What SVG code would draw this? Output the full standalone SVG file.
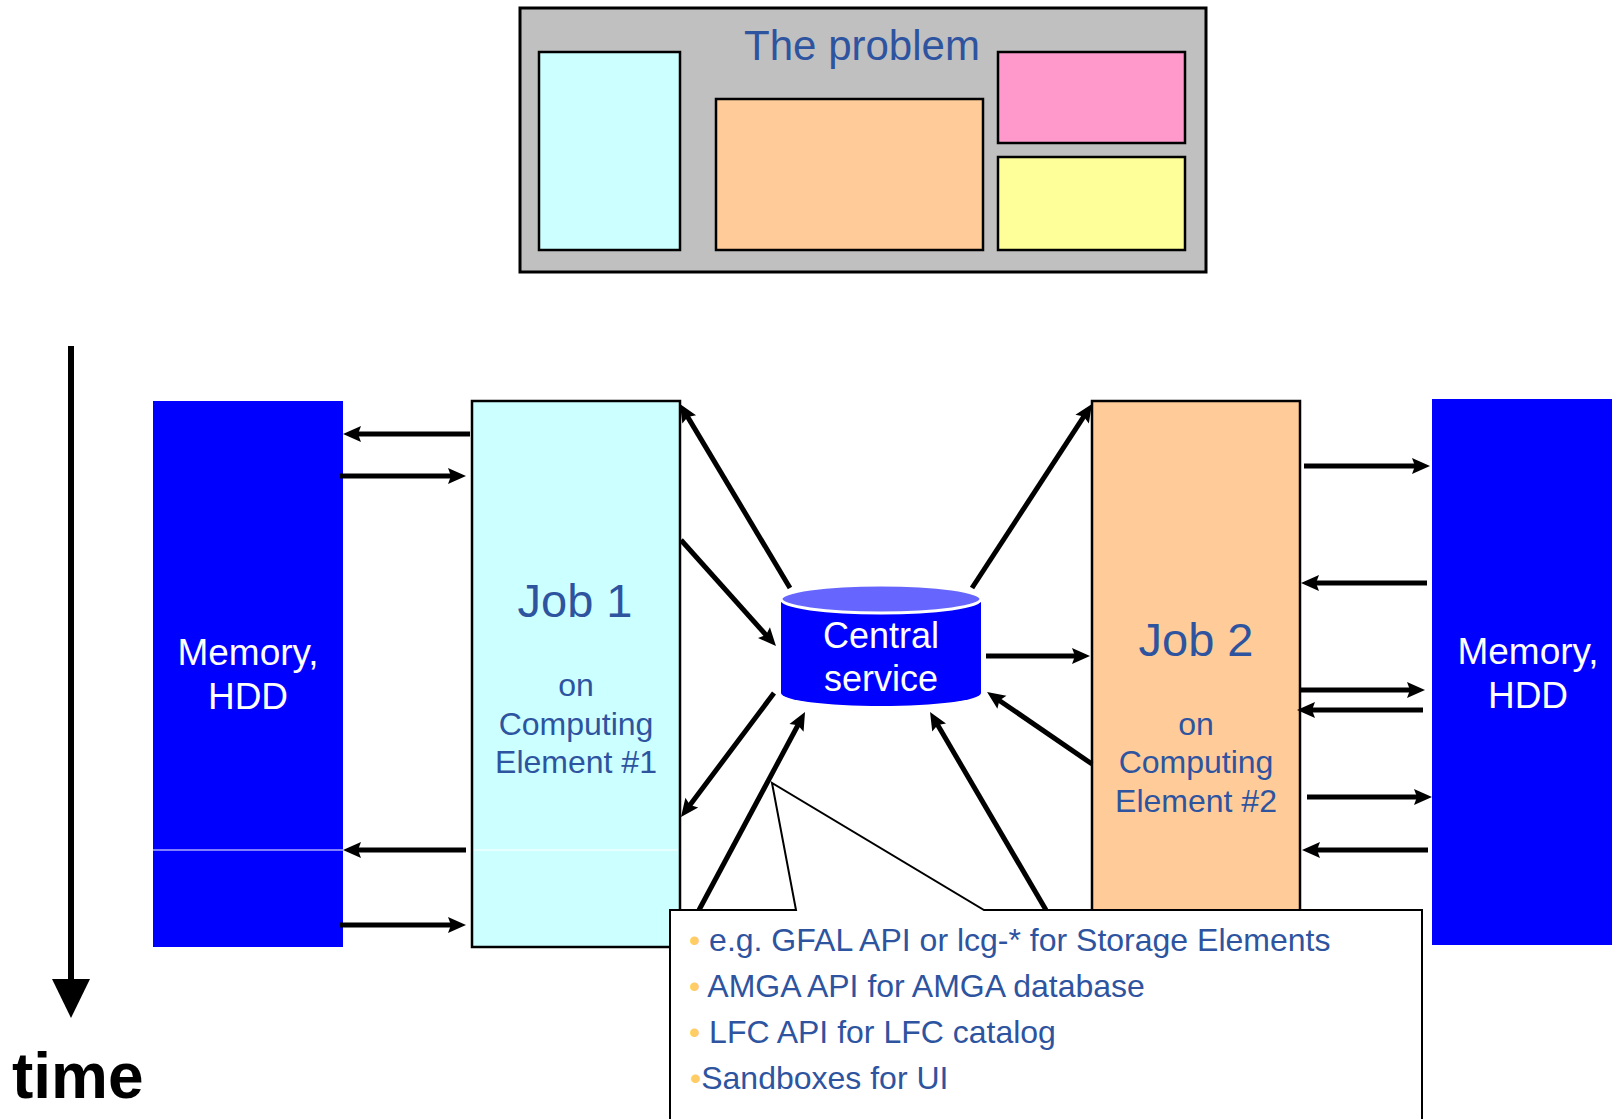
<svg xmlns="http://www.w3.org/2000/svg" width="1612" height="1119" viewBox="0 0 1612 1119">
<style>
.t{font-family:"Liberation Sans",Arial,sans-serif;}
.blue{fill:#2E54A0;}
.wh{fill:#FFFFFF;}
.box{stroke:#000;stroke-width:2.5;}
.arr{stroke:#000;stroke-width:5;fill:none;marker-end:url(#ah);}
.bul{fill:#FFCC66;}
</style>
<defs>
<marker id="ah" markerUnits="userSpaceOnUse" markerWidth="20" markerHeight="18" refX="8" refY="8" orient="auto" overflow="visible">
<path d="M0,0 L18,8 L0,16 L3,8 Z" fill="#000"/>
</marker>
</defs>
<rect width="1612" height="1119" fill="#fff"/>

<g id="problem">
<rect x="520" y="8" width="686" height="264" fill="#C0C0C0" stroke="#000" stroke-width="3"/>
<rect x="539" y="52" width="141" height="198" fill="#CCFFFF" class="box"/>
<rect x="716" y="99" width="267" height="151" fill="#FFCC99" class="box"/>
<rect x="998" y="52" width="187" height="91" fill="#FF99CC" class="box"/>
<rect x="998" y="157" width="187" height="93" fill="#FFFF99" class="box"/>
<text x="862" y="60" class="t blue" font-size="42" text-anchor="middle">The problem</text>
</g>

<g id="time">
<line x1="71" y1="346" x2="71" y2="982" stroke="#000" stroke-width="6"/>
<polygon points="52,979 90,979 71,1018" fill="#000"/>
<text x="12" y="1098" class="t" font-size="64" font-weight="bold" fill="#000">time</text>
</g>

<g id="memory1">
<rect x="153" y="401" width="190" height="546" fill="#0000FF"/>
<line x1="153" y1="850" x2="343" y2="850" stroke="#fff" stroke-width="1"/>
<text class="t wh" font-size="37" text-anchor="middle"><tspan x="248" y="665">Memory,</tspan><tspan x="248" y="709">HDD</tspan></text>
</g>

<g id="job1">
<rect x="472" y="401" width="208" height="546" fill="#CCFFFF" class="box"/>
<line x1="474" y1="850" x2="678" y2="850" stroke="#fff" stroke-width="1"/>
<text x="575" y="617" class="t blue" font-size="47" text-anchor="middle">Job 1</text>
<text class="t blue" font-size="32" text-anchor="middle"><tspan x="576" y="696">on</tspan><tspan x="576" y="735">Computing</tspan><tspan x="576" y="773">Element #1</tspan></text>
</g>

<g id="job2">
<rect x="1092" y="401" width="208" height="540" fill="#FFCC99" class="box"/>
<text x="1196" y="656" class="t blue" font-size="47" text-anchor="middle">Job 2</text>
<text class="t blue" font-size="32" text-anchor="middle"><tspan x="1196" y="735">on</tspan><tspan x="1196" y="773">Computing</tspan><tspan x="1196" y="812">Element #2</tspan></text>
</g>

<g id="memory2">
<rect x="1432" y="399" width="180" height="546" fill="#0000FF"/>
<text class="t wh" font-size="37" text-anchor="middle"><tspan x="1528" y="664">Memory,</tspan><tspan x="1528" y="708">HDD</tspan></text>
</g>

<g id="central">
<path d="M781,600 L781,693 A100,13 0 0 0 981,693 L981,600 Z" fill="#0000FF"/>
<ellipse cx="881" cy="599" rx="100" ry="14" fill="#6666FF" stroke="#fff" stroke-width="3"/>
<text class="t wh" font-size="36" text-anchor="middle"><tspan x="881" y="648">Central</tspan><tspan x="881" y="691">service</tspan></text>
</g>

<g id="connectors">
<line class="arr" x1="470" y1="434" x2="353" y2="434"/>
<line class="arr" x1="340" y1="476" x2="456" y2="476"/>
<line class="arr" x1="466" y1="850" x2="353" y2="850"/>
<line class="arr" x1="340" y1="925" x2="456" y2="925"/>
<line class="arr" x1="1304" y1="466" x2="1420" y2="466"/>
<line class="arr" x1="1427" y1="583" x2="1311" y2="583"/>
<line class="arr" x1="1300" y1="690" x2="1415" y2="690"/>
<line class="arr" x1="1423" y1="710" x2="1307" y2="710"/>
<line class="arr" x1="1307" y1="797" x2="1422" y2="797"/>
<line class="arr" x1="1428" y1="850" x2="1312" y2="850"/>
<line class="arr" x1="986" y1="656" x2="1080" y2="656"/>
<line class="arr" x1="790" y1="588" x2="685.1" y2="412.6"/>
<line class="arr" x1="681" y1="540" x2="769.3" y2="638.6"/>
<line class="arr" x1="774" y1="693" x2="687" y2="809"/>
<line class="arr" x1="699" y1="910" x2="800.3" y2="720.8"/>
<line class="arr" x1="972" y1="588" x2="1086.5" y2="412.4"/>
<line class="arr" x1="1092" y1="764" x2="995.3" y2="697.7"/>
<line class="arr" x1="1046" y1="910" x2="935.1" y2="720.6"/>
</g>

<g id="callout">
<path d="M670,1125 L670,910 L796,910 L772,783 L984,910 L1422,910 L1422,1125" fill="#fff" stroke="#000" stroke-width="2"/>
<g class="t blue" font-size="32">
<text x="689" y="951"><tspan class="bul">•</tspan> e.g. GFAL API or lcg-* for Storage Elements</text>
<text x="689" y="997"><tspan class="bul">•</tspan> AMGA API for AMGA database</text>
<text x="689" y="1043"><tspan class="bul">•</tspan> LFC API for LFC catalog</text>
<text x="690" y="1089"><tspan class="bul">•</tspan>Sandboxes for UI</text>
</g>
</g>
</svg>
